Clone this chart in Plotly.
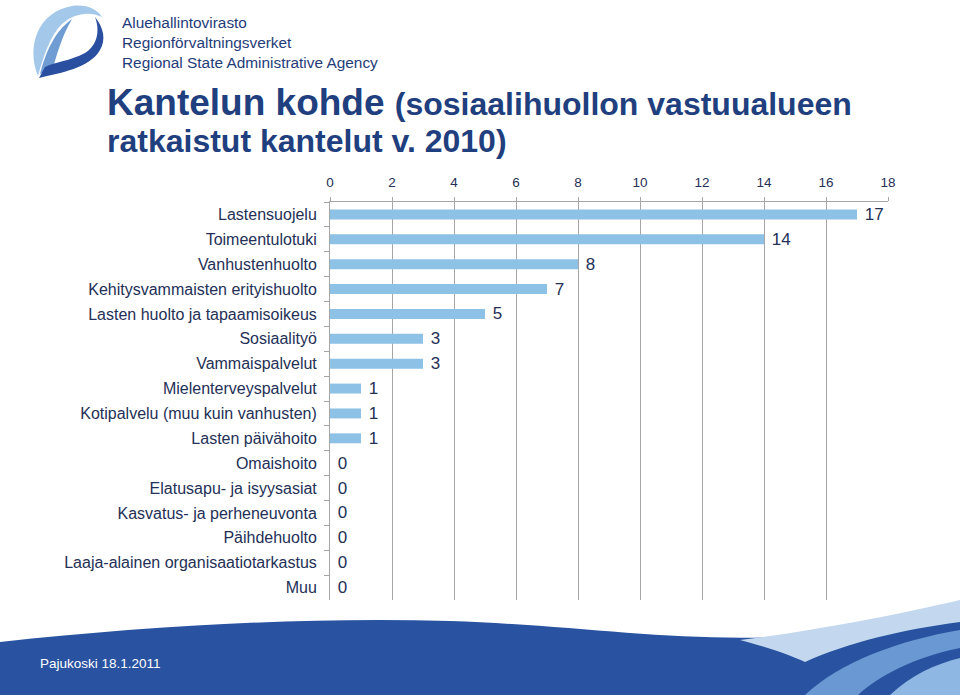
import plotly.graph_objects as go

categories = [
    "Lastensuojelu", "Toimeentulotuki", "Vanhustenhuolto",
    "Kehitysvammaisten erityishuolto", "Lasten huolto ja tapaamisoikeus",
    "Sosiaalityö", "Vammaispalvelut", "Mielenterveyspalvelut",
    "Kotipalvelu (muu kuin vanhusten)", "Lasten päivähoito", "Omaishoito",
    "Elatusapu- ja isyysasiat", "Kasvatus- ja perheneuvonta", "Päihdehuolto",
    "Laaja-alainen organisaatiotarkastus", "Muu",
]
values = [17, 14, 8, 7, 5, 3, 3, 1, 1, 1, 0, 0, 0, 0, 0, 0]
x_ticks = [0, 2, 4, 6, 8, 10, 12, 14, 16, 18]

W, H = 960, 695
L, R, T, B = 330, 888, 202, 600


def px(x):
    return (x - L) / (R - L)


def py(y):
    return (B - y) / (B - T)


def P(s):
    # convert a path written in pixel coords to paper coords
    toks = s.replace(",", " ").split()
    res = []
    buf = []
    for t in toks:
        if t.isalpha():
            res.append(t)
        else:
            buf.append(float(t))
            if len(buf) == 2:
                res.append(f"{px(buf[0]):.5f},{py(buf[1]):.5f}")
                buf = []
    return " ".join(res)


navy = "#243056"
bar_color = "#8DC1E6"
FONT = "Liberation Sans, Arial"

fig = go.Figure()
fig.add_trace(go.Bar(
    x=values, y=categories, orientation="h",
    marker=dict(color=bar_color, line=dict(width=0)),
    width=0.4,
    text=[" " + str(v) for v in values], textposition="outside",
    constraintext="none",
    textfont=dict(family=FONT, size=17, color=navy),
    cliponaxis=False, hoverinfo="skip",
))


def shp(d, color):
    return dict(type="path", xref="paper", yref="paper", layer="above",
                path=P(d), fillcolor=color, line=dict(width=0))


shapes = [
    # footer wave
    shp("M 0,642 C 150,626 300,617 450,621 C 600,626 700,648 850,632 "
        "C 900,625 940,612 960,604 L 960,695 L 0,695 Z", "#2953A0"),
    shp("M 740,640 C 820,630 900,614 960,600 L 960,622 "
        "C 900,630 850,642 805,662 C 790,655 770,648 740,640 Z", "#C3D8EF"),
    shp("M 805,695 C 840,662 900,640 960,630 L 960,648 "
        "C 915,657 878,676 858,695 Z", "#6A98D2"),
    shp("M 890,695 C 910,676 935,664 960,658 L 960,695 Z", "#8FB7E3"),
    # logo
    shp("M 38,76 C 26,46 38,12 72,6 C 86,4 97,9 102,17 "
        "C 90,11 74,13 62,24 C 50,36 44,55 38,76 Z", "#A4C8EA"),
    shp("M 40,74 C 46,52 54,32 72,19 C 62,36 57,54 53,68 Z", "#6F9CD3"),
    shp("M 39,78 C 60,73 90,68 100,50 C 106,40 104,28 95,17 "
        "C 100,30 98,45 85,53 C 70,61 55,62 45,67 Z", "#2A4FA0"),
]

annotations = [
    dict(x=px(120), y=py(22), text="Aluehallintovirasto", size=15.4, color="#1F3C78"),
    dict(x=px(120), y=py(42), text="Regionförvaltningsverket", size=15.4, color="#1F3C78"),
    dict(x=px(120), y=py(62), text="Regional State Administrative Agency", size=15.4, color="#1F3C78"),
    dict(x=px(105), y=py(102),
         text="<b>Kantelun kohde</b> <b><span style='font-size:32px'>(sosiaalihuollon vastuualueen</span></b>",
         size=37, color="#1F3F7F"),
    dict(x=px(105), y=py(141), text="<b>ratkaistut kantelut v. 2010)</b>", size=32, color="#1F3F7F"),
    dict(x=px(38), y=py(663), text="Pajukoski 18.1.2011", size=13.5, color="white",
         family="Liberation Sans Narrow, Arial Narrow, Liberation Sans"),
]
ann = []
for a in annotations:
    ann.append(dict(x=a["x"], y=a["y"], xref="paper", yref="paper", xanchor="left",
                    yanchor="middle", text=a["text"], showarrow=False,
                    font=dict(family=a.get("family", FONT), size=a["size"], color=a["color"])))

fig.update_layout(
    width=W, height=H, autosize=False,
    margin=dict(l=L, r=W - R, t=T, b=H - B, pad=0),
    paper_bgcolor="white", plot_bgcolor="white",
    showlegend=False, hovermode=False,
    shapes=shapes, annotations=ann,
    xaxis=dict(side="top", range=[0, 18], tickvals=x_ticks, ticktext=[str(t) for t in x_ticks],
               showgrid=True, gridcolor="#A6A6A6", gridwidth=1,
               showline=True, linecolor="#A6A6A6", linewidth=1,
               ticks="outside", ticklen=4, tickcolor="#A6A6A6",
               tickfont=dict(family=FONT, size=13.5, color=navy),
               ticklabelstandoff=5,
               zeroline=False, fixedrange=True),
    yaxis=dict(autorange="reversed", showline=True, linecolor="#A6A6A6", linewidth=1,
               ticks="outside", ticklen=5, tickcolor="#A6A6A6", tickson="boundaries",
               tickfont=dict(family=FONT, size=16, color=navy),
               showgrid=False, ticklabelstandoff=9, fixedrange=True),
)

fig.write_html("out.html", config={"displayModeBar": False},
               post_script="document.body.style.margin='0';document.body.style.padding='0';")
